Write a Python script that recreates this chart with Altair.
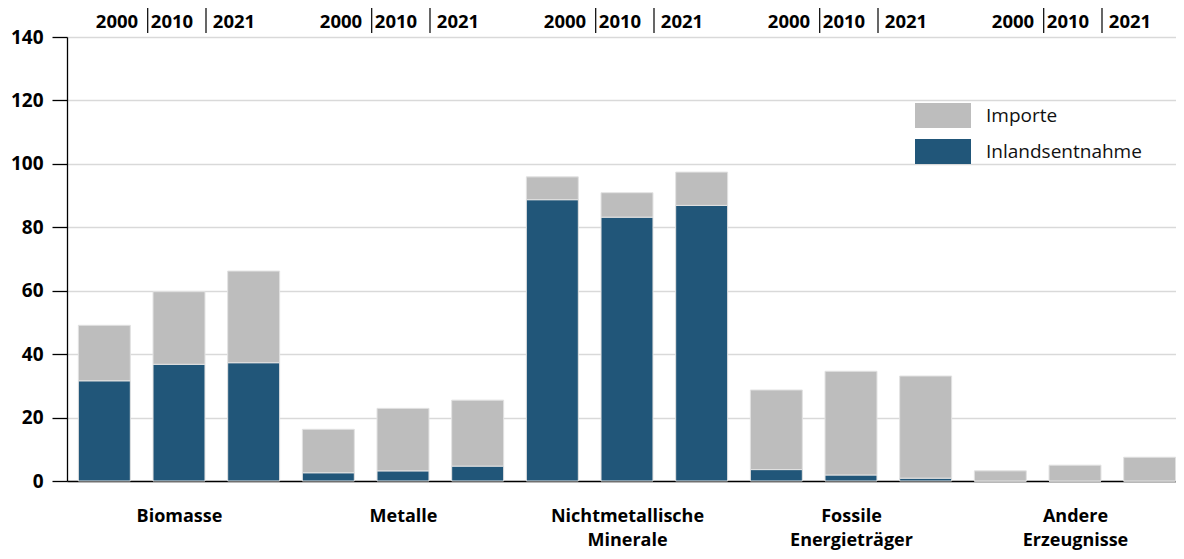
import altair as alt
import pandas as pd

# ---------------- data ----------------
categories = ["Biomasse", "Metalle", "Nichtmetallische|Minerale",
              "Fossile|Energieträger", "Andere|Erzeugnisse"]
years = ["2000", "2010", "2021"]
series = ["Importe", "Inlandsentnahme"]
colors = ["#bdbdbd", "#215679"]

inlandsentnahme = [
    [31.6, 36.8, 37.3],
    [2.6, 3.2, 4.7],
    [88.7, 83.2, 86.9],
    [3.6, 1.9, 0.9],
    [0.0, 0.0, 0.0],
]
importe = [
    [17.5, 22.9, 28.9],
    [13.7, 19.7, 20.8],
    [7.2, 7.7, 10.5],
    [25.1, 32.7, 32.2],
    [3.2, 5.0, 7.5],
]
y_ticks = [0, 20, 40, 60, 80, 100, 120, 140]

# ---------------- layout constants ----------------
FONT = "Open Sans"
PLOT_W, PLOT_H = 1109, 444
SLOT_PX = 1120 / 15            # one bar slot in pixels
XMAX = PLOT_W / SLOT_PX        # visible slots
BAR_PAD = 0.152                # fraction of slot left empty on each side
YEAR_OFF_PX = [50, 105, 167]   # header label centres inside a group
SEP_OFF_PX = [80.7, 139]       # header separators inside a group

rows = []
for g, cat in enumerate(categories):
    for j, yr in enumerate(years):
        slot = 3 * g + j
        lo = 0.0
        for s, vals in (("Inlandsentnahme", inlandsentnahme), ("Importe", importe)):
            v = vals[g][j]
            rows.append(dict(category=cat, year=yr, series=s, value=v,
                             xpos=slot + BAR_PAD, xend=slot + 1 - BAR_PAD,
                             y_lo=lo, y_hi=lo + v))
            lo += v
bars_df = pd.DataFrame(rows)

hdr_rows, sep_rows = [], []
for g in range(len(categories)):
    for j, yr in enumerate(years):
        hdr_rows.append(dict(xpos=3 * g + YEAR_OFF_PX[j] / SLOT_PX, year=yr))
    for off in SEP_OFF_PX:
        sep_rows.append(dict(xpos=3 * g + off / SLOT_PX))
hdr_df = pd.DataFrame(hdr_rows)
sep_df = pd.DataFrame(sep_rows)

cat_js = "[" + ",".join("'" + c + "'" for c in categories) + "]"
group_centres = [3 * g + 1.5 for g in range(len(categories))]

x_scale = alt.Scale(domain=[0, XMAX], nice=False, zero=False)
x_axis = alt.Axis(
    values=group_centres,
    labelExpr=f"split({cat_js}[floor(datum.value/3)], '|')",
    ticks=False, grid=False, domainColor="black", domainWidth=1.3,
    labelFont=FONT, labelFontWeight="bold", labelFontSize=18, labelColor="black",
    labelBaseline="top", labelPadding=26, labelLineHeight=24,
    labelOverlap=False, labelFlush=False, labelBound=False, title=None,
)
xenc = alt.X("xpos:Q", scale=x_scale, axis=x_axis)

bars = alt.Chart(bars_df).mark_bar(stroke="#e2e2e2", strokeWidth=1).encode(
    x=xenc,
    x2="xend:Q",
    y=alt.Y("y_lo:Q", scale=alt.Scale(domain=[0, 140], nice=False),
            axis=alt.Axis(values=y_ticks, tickSize=15, tickColor="black",
                          tickWidth=1.3, domainColor="black", domainWidth=1.3,
                          gridColor="#d9d9d9", gridWidth=1.3,
                          labelFont=FONT, labelFontWeight="bold",
                          labelFontSize=19, labelColor="black",
                          labelPadding=9, title=None)),
    y2="y_hi:Q",
    color=alt.Color("series:N",
                    scale=alt.Scale(domain=series, range=colors),
                    legend=alt.Legend(orient="none", legendX=863.5, legendY=66,
                                      title=None, padding=0,
                                      symbolType="M-2.24,-1H2.24V1H-2.24Z",
                                      symbolSize=625, symbolStrokeWidth=0,
                                      symbolOpacity=1,
                                      labelOffset=30.5, rowPadding=11,
                                      labelFont=FONT, labelFontSize=19,
                                      labelColor="#111111")),
    tooltip=["category", "year", "series", "value"],
)

headers = alt.Chart(hdr_df).mark_text(
    font=FONT, fontWeight="bold", fontSize=18.5, color="black",
    align="center", baseline="alphabetic",
).encode(x=xenc, y=alt.value(-8.7), text="year:N")

seps = alt.Chart(sep_df).mark_rule(color="black", strokeWidth=1.2).encode(
    x=xenc, y=alt.value(-30), y2=alt.value(-4)
)

chart = alt.layer(bars, seps, headers).properties(
    width=PLOT_W, height=PLOT_H,
    autosize=alt.AutoSizeParams(type="none"),
    padding={"left": 59, "top": 29, "right": 0, "bottom": 70},
).configure_view(stroke=None).configure(font=FONT)

chart.save("out.html", embed_options={"renderer": "svg", "actions": False})
